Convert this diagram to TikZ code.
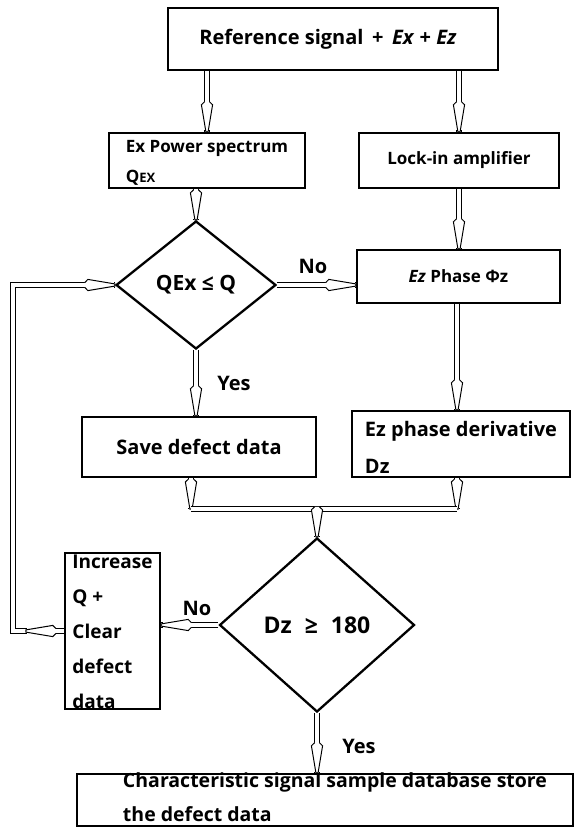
\documentclass[tikz,border=0pt]{standalone}
\usepackage{fontspec}
\setmainfont{Open Sans}
\usetikzlibrary{shapes.geometric,decorations.markings}
\newcommand\hdshape{%
  \fill[white] (-29.5pt,-3.8pt) rectangle (-1.3pt,3.8pt);
  \draw[black,line width=1pt,fill=white,line join=miter]
    (-30pt,2.5pt) -- (-27pt,5.6pt) -- (0pt,1.1pt) -- (0pt,-1.1pt) -- (-27pt,-5.6pt) -- (-30pt,-2.5pt);}
\newcommand\stk[2]{\smash{\raisebox{#1}{\begin{tabular}[c]{@{}l@{}}#2\end{tabular}}}}
\tikzset{
  conn/.style={draw=black,line width=1pt,double=white,double distance=4pt},
  tipend/.style={postaction={decorate,decoration={markings,mark=at position 1 with {\hdshape}}}},
  tipat/.style={postaction={decorate,decoration={markings,mark=at position #1 with {\hdshape}}}},
  box/.style={draw,line width=2.4pt,inner sep=0pt,font=\fontsize{20}{24}\selectfont\bfseries},
  dec/.style={draw,diamond,line width=2.3pt,inner sep=0pt,font=\fontsize{21}{24}\selectfont\bfseries},
  lbl/.style={font=\fontsize{20}{22}\selectfont\bfseries,inner sep=0pt},
}
\begin{document}
\begin{tikzpicture}[x=1pt,y=-1pt]
\useasboundingbox (0,0) rectangle (577,829);
\node[box,minimum width=330pt,minimum height=62pt,font=\fontsize{20}{22}\selectfont\bfseries] (top) at (333,39) {\hspace*{-10pt}Reference signal \,+\, \textit{Ex} + \textit{Ez}};
\node[box,minimum width=196pt,minimum height=55pt,font=\fontsize{17}{30}\selectfont\bfseries] (ex) at (207,160.5)
  {\stk{-5.5pt}{Ex Power spectrum\\Q{\fontsize{13}{13}\selectfont EX}}};
\node[box,minimum width=200pt,minimum height=55pt,font=\fontsize{17}{20}\selectfont\bfseries] (lock) at (459,160.5) {Lock-in amplifier};
\node[dec,minimum width=160pt,minimum height=128pt] (dia1) at (196,285) {QEx ≤ Q};
\node[box,minimum width=203pt,minimum height=53pt,font=\fontsize{17}{20}\selectfont\bfseries] (ezp) at (458.5,276.5) {\textit{Ez} Phase Φz};
\node[box,minimum width=234pt,minimum height=60pt] (save) at (199,447) {Save defect data};
\node[box,minimum width=218pt,minimum height=66pt,font=\fontsize{20}{37}\selectfont\bfseries] (der) at (461,444)
  {\stk{-9pt}{Ez phase derivative\\Dz}};
\node[dec,minimum width=195pt,minimum height=174pt,font=\fontsize{23}{26}\selectfont\bfseries] (dia2) at (317,625) {Dz\hspace{7pt} ≥\hspace{7pt} 180};
\node[box,minimum width=95pt,minimum height=156pt,font=\fontsize{19}{35}\selectfont\bfseries] (inc) at (112.5,631)
  {\stk{-5pt}{Increase\\Q +\\Clear\\defect\\data}};
\node[box,minimum width=496pt,minimum height=52pt,font=\fontsize{19.5}{34}\selectfont\bfseries] (fin) at (325,800)
  {\hspace*{20pt}\stk{-3pt}{Characteristic signal sample database store\\the defect data}};
\node[lbl] (no1) at (313,266) {No};
\node[lbl] (yes1) at (234,383) {Yes};
\node[lbl] (no2) at (197,608) {No};
\node[lbl] (yes2) at (359,746) {Yes};
\coordinate (j1) at (191,509);
\coordinate (j2) at (457,509);
\coordinate (jm) at (317,509);
\coordinate (lp) at (13,0);
\draw[conn,tipend] (top.south -| ex.north) -- (ex.north);
\draw[conn,tipend] (top.south -| lock.north) -- (lock.north);
\draw[conn,tipend] (dia1.north |- ex.south) -- (dia1.north);
\draw[conn,tipend] (lock.south) -- (lock.south |- ezp.north);
\draw[conn,tipend] (dia1.east) -- (dia1.east -| ezp.west);
\draw[conn,tipend] (dia1.south) -- (dia1.south |- save.north);
\draw[conn,tipend] (j2 |- ezp.south) -- (j2 |- der.north);
\draw[conn,tipend] (j1 |- save.south) -- (j1);
\draw[conn,tipend] (j2 |- der.south) -- (j2);
\draw[conn] (j1) -- (j2);
\draw[conn,tipend] (jm) -- (dia2.north);
\draw[conn,tipend] (dia2.west) -- (dia2.west -| inc.east);
\draw[conn,tipend] (dia2.south) -- (dia2.south |- fin.north);
\draw[conn,tipend,tipat=38pt] (inc.west) -- (inc.west -| lp) -- (lp |- dia1.west) -- (dia1.west);
\end{tikzpicture}
\end{document}
